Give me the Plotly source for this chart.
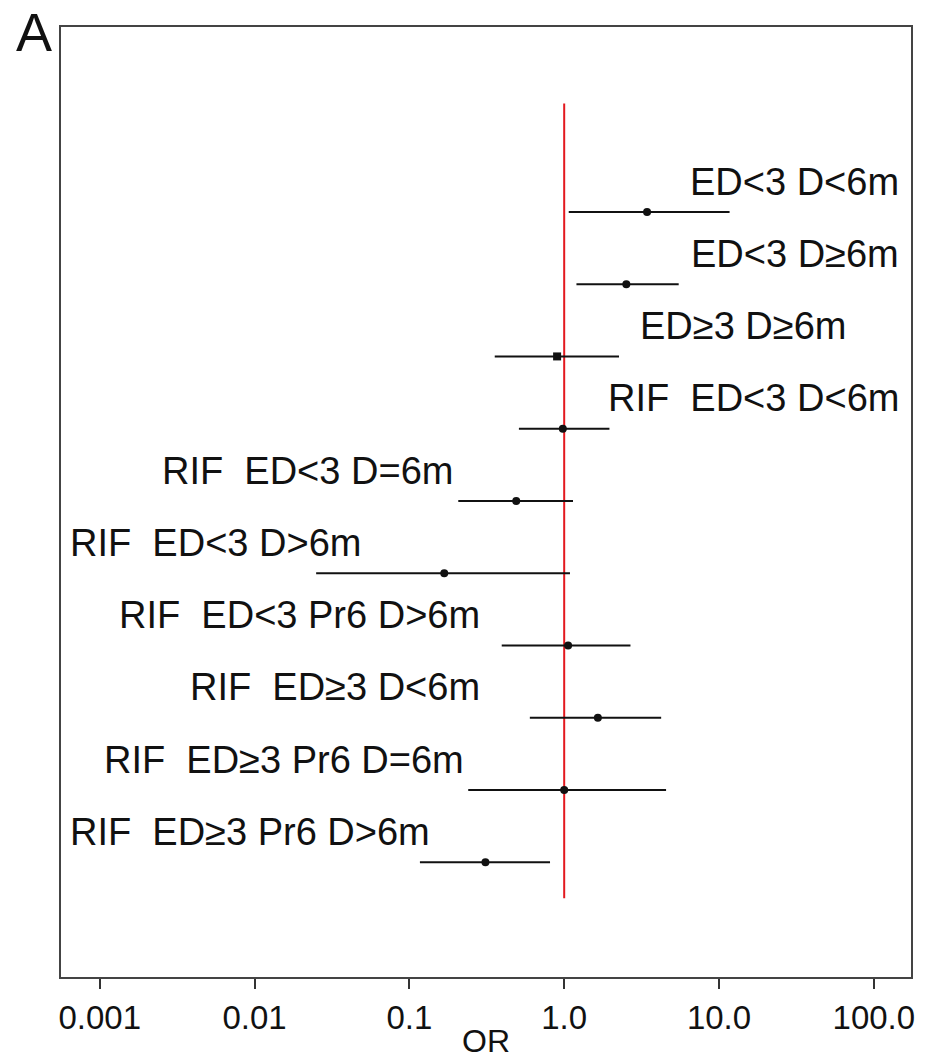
import math
import plotly.graph_objects as go

labels = ["ED<3 D<6m", "ED<3 D≥6m", "ED≥3 D≥6m", "RIF\u00a0 ED<3 D<6m",
          "RIF\u00a0 ED<3 D=6m", "RIF\u00a0 ED<3 D>6m", "RIF\u00a0 ED<3 Pr6 D>6m",
          "RIF\u00a0 ED≥3 D<6m", "RIF\u00a0 ED≥3 Pr6 D=6m", "RIF\u00a0 ED≥3 Pr6 D>6m"]
odds_ratio = [3.43, 2.52, 0.90, 0.98, 0.49, 0.168, 1.06, 1.65, 1.0, 0.31]
ci_low = [1.07, 1.20, 0.356, 0.51, 0.207, 0.025, 0.395, 0.60, 0.24, 0.117]
ci_high = [11.7, 5.49, 2.26, 1.96, 1.14, 1.09, 2.68, 4.23, 4.55, 0.81]
tick_vals = [0.001, 0.01, 0.1, 1, 10, 100]
tick_text = ["0.001", "0.01", "0.1", "1.0", "10.0", "100.0"]

# label placement (right edge, in OR units) - layout only
label_right = [150, 150, 68, 150, 0.198, 0.050, 0.296, 0.296, 0.233, 0.141]

rows = list(range(1, len(labels) + 1))
FONT = "Liberation Sans, Arial, sans-serif"

fig = go.Figure()

# reference line at OR = 1
fig.add_trace(go.Scatter(x=[1, 1], y=[-0.5, 10.5], mode="lines",
                         line=dict(color="#e3191f", width=2), hoverinfo="skip"))

# confidence intervals
lx, ly = [], []
for lo, hi, r in zip(ci_low, ci_high, rows):
    lx += [lo, hi, None]
    ly += [r, r, None]
fig.add_trace(go.Scatter(x=lx, y=ly, mode="lines",
                         line=dict(color="#111111", width=2), hoverinfo="skip"))

symbols = ["circle"] * len(rows)
symbols[2] = "square"
fig.add_trace(go.Scatter(x=odds_ratio, y=rows, mode="markers",
                         marker=dict(color="#111111", size=8, symbol=symbols)))

for lab, xr, r in zip(labels, label_right, rows):
    fig.add_annotation(x=math.log10(xr), y=r - 0.42, text=lab, showarrow=False,
                       xanchor="right", yanchor="middle",
                       font=dict(family=FONT, size=38, color="#111111"))

fig.add_annotation(xref="paper", yref="paper", x=0.5, y=-0.0884, text="OR",
                   showarrow=False, xanchor="center", yanchor="bottom",
                   font=dict(family=FONT, size=32, color="#111111"))
fig.add_annotation(xref="paper", yref="paper", x=-0.032, y=1.0284, text="A",
                   showarrow=False, xanchor="center", yanchor="top",
                   font=dict(family=FONT, size=54, color="#111111"))

fig.update_layout(
    width=940, height=1061,
    margin=dict(l=61, r=29, t=27, b=84),
    plot_bgcolor="white", paper_bgcolor="white",
    showlegend=False,
    xaxis=dict(type="log", range=[-3.25, 2.24], tickvals=tick_vals, ticktext=tick_text,
               ticks="outside", ticklen=10, tickwidth=2, tickcolor="#333333",
               showline=True, linecolor="#444444", linewidth=2, mirror=True,
               showgrid=False, zeroline=False,
               tickfont=dict(family=FONT, size=33, color="#111111")),
    yaxis=dict(range=[11.59, -1.56], showticklabels=False, ticks="",
               showline=True, linecolor="#444444", linewidth=2, mirror=True,
               showgrid=False, zeroline=False),
)

fig.write_html("out.html")
